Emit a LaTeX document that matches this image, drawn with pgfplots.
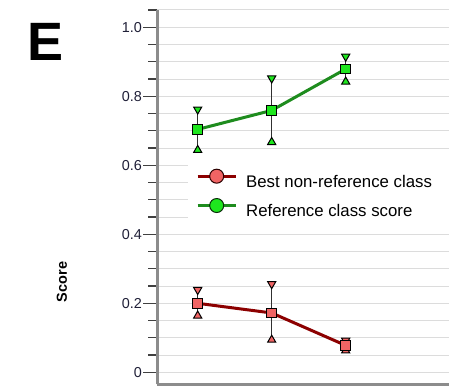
\documentclass[border=0pt]{standalone}
\usepackage{fontspec}
\setmainfont{Liberation Sans}
\usepackage{pgfplots}
\usepackage{pgfplotstable}
\pgfplotsset{compat=1.18}
\definecolor{redline}{HTML}{8C0000}
\definecolor{redfill}{HTML}{F06464}
\definecolor{greenline}{HTML}{1E8C1E}
\definecolor{greenfill}{HTML}{1EE61E}
\definecolor{errbar}{HTML}{303030}
\definecolor{gridc}{HTML}{DCDCDC}
\definecolor{axisgray}{HTML}{8C8C8C}
\definecolor{tickc}{HTML}{404040}
\definecolor{labelc}{HTML}{202038}

\pgfplotstableread{
x y lo hi
1 0.200 0.164 0.239
2 0.172 0.094 0.256
3 0.078 0.063 0.092
}\redtab
\pgfplotstableread{
x y lo hi
1 0.704 0.644 0.762
2 0.759 0.667 0.852
3 0.879 0.842 0.915
}\greentab

\begin{document}
\begin{tikzpicture}[x=1pt,y=1pt]
\useasboundingbox (0,0) rectangle (465,387);
\begin{axis}[
  at={(157pt,2.6pt)}, anchor=south west,
  scale only axis, width=292.3pt, height=374.4pt,
  xmin=0.45, xmax=4.4, ymin=-0.035, ymax=1.05,
  axis x line*=bottom, axis y line*=left,
  x axis line style={draw=axisgray, line width=2.5pt},
  y axis line style={draw=axisgray, line width=3pt},
  xtick=\empty,
  ytick={0,0.2,0.4,0.6,0.8,1.0},
  yticklabels={0,0.2,0.4,0.6,0.8,1.0},
  minor ytick={0.05,0.1,0.15,0.25,0.3,0.35,0.45,0.5,0.55,0.65,0.7,0.75,0.85,0.9,0.95,1.05},
  tick align=outside,
  major tick length=14pt, minor tick length=9pt,
  every tick/.style={draw=tickc, line width=1.2pt},
  ymajorgrids, yminorgrids,
  major grid style={draw=gridc, line width=1pt},
  minor grid style={draw=gridc, line width=1pt},
  yticklabel style={font=\fontsize{14.4}{16}\selectfont, text=labelc, inner xsep=1pt},
  ylabel={Score},
  ylabel style={at={(axis description cs:-0.325,0.2735)}, anchor=center, font=\bfseries\fontsize{14.5}{16}\selectfont, text=black},
  legend style={at={(axis description cs:0.106,0.6114)}, anchor=north west,
    draw=none, fill=white, inner xsep=8pt, inner ysep=13pt, row sep=6.5pt, column sep=9pt,
    font=\fontsize{16.8}{19}\selectfont, text=black,
    nodes={inner xsep=0pt, inner ysep=3pt}},
  legend cell align=left,
  clip=false,
]
% red series
\addplot[forget plot, draw=none, mark=none,
  error bars/.cd, y dir=both, y explicit,
  error bar style={draw=errbar, solid, line width=1.3pt}, error mark=none]
  table[x=x, y=y, y error plus expr=\thisrow{hi}-\thisrow{y}, y error minus expr=\thisrow{y}-\thisrow{lo}] {\redtab};
\addplot[forget plot, only marks, mark=triangle*, mark size=4.7pt,
  mark options={rotate=180, fill=redfill, draw=black, line width=1pt}]
  table[x=x, y=hi] {\redtab};
\addplot[forget plot, only marks, mark=triangle*, mark size=4.7pt,
  mark options={fill=redfill, draw=black, line width=1pt}]
  table[x=x, y=lo] {\redtab};
\addplot[draw=redline, line width=3pt, mark=square*, mark size=4.8pt,
  mark options={fill=redfill, draw=black, line width=1pt, rounded corners=1.5pt},
  legend image code/.code={
    \draw[redline, line width=3pt] (0pt,5.5pt) -- (38pt,5.5pt);
    \draw[fill=redfill, draw=black!70!redline, line width=1pt] (19pt,5.5pt) circle (7pt);
  }]
  table[x=x, y=y] {\redtab};
\addlegendentry{\makebox[196pt][l]{Best non-reference class}}
% green series
\addplot[forget plot, draw=none, mark=none,
  error bars/.cd, y dir=both, y explicit,
  error bar style={draw=errbar, solid, line width=1.3pt}, error mark=none]
  table[x=x, y=y, y error plus expr=\thisrow{hi}-\thisrow{y}, y error minus expr=\thisrow{y}-\thisrow{lo}] {\greentab};
\addplot[forget plot, only marks, mark=triangle*, mark size=4.7pt,
  mark options={rotate=180, fill=greenfill, draw=black, line width=1pt}]
  table[x=x, y=hi] {\greentab};
\addplot[forget plot, only marks, mark=triangle*, mark size=4.7pt,
  mark options={fill=greenfill, draw=black, line width=1pt}]
  table[x=x, y=lo] {\greentab};
\addplot[draw=greenline, line width=3pt, mark=square*, mark size=4.8pt,
  mark options={fill=greenfill, draw=black, line width=1pt, rounded corners=1.5pt},
  legend image code/.code={
    \draw[greenline, line width=3pt] (0pt,5.5pt) -- (38pt,5.5pt);
    \draw[fill=greenfill, draw=black!70!greenline, line width=1pt] (19pt,5.5pt) circle (7pt);
  }]
  table[x=x, y=y] {\greentab};
\addlegendentry{\makebox[196pt][l]{Reference class score}}
\node[font=\bfseries\fontsize{54}{60}\selectfont, inner sep=0pt] at (axis description cs:-0.383,0.9145) {E};
\end{axis}
\end{tikzpicture}
\end{document}
